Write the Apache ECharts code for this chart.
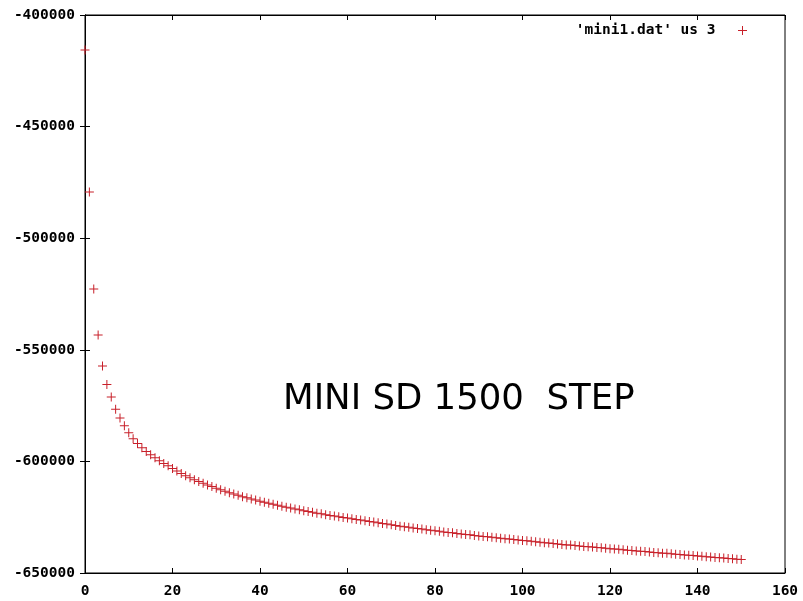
<!DOCTYPE html>
<html lang="en" style="height: 100%">
<head>
  <meta charset="utf-8">
</head>
<body style="height: 100%; margin: 0; background: #fff">
  <div id="container" style="width: 803px; height: 601px"></div>
  <script type="text/javascript" src="https://cdn.jsdelivr.net/npm/echarts@6/dist/echarts.min.js"></script>
  <script type="text/javascript">
    // step index 0..150, column 3 of mini1.dat
    var steps = [];
    for (var i = 0; i <= 150; i++) steps.push(i);

    var energy = [
      -415700, -479300, -522800, -543400, -557300, -565600, -571100, -576600, -580600, -584000,
      -587200, -589900, -592000, -593900, -595600, -597000, -598400, -599700, -600900, -602000,
      -603200, -604300, -605400, -606400, -607300, -608200, -609000, -609800, -610600, -611300,
      -612000, -612700, -613400, -614000, -614600, -615200, -615800, -616300, -616800, -617300,
      -617800, -618300, -618800, -619200, -619700, -620100, -620500, -620900, -621300, -621700,
      -622100, -622500, -622800, -623200, -623500, -623900, -624200, -624500, -624800, -625100,
      -625400, -625700, -626000, -626300, -626600, -626900, -627200, -627500, -627800, -628100,
      -628400, -628700, -629000, -629300, -629500, -629800, -630100, -630300, -630600, -630800,
      -631100, -631300, -631600, -631800, -632000, -632300, -632500, -632700, -632900, -633200,
      -633400, -633600, -633800, -634000, -634200, -634400, -634600, -634800, -635000, -635200,
      -635400, -635600, -635800, -636000, -636200, -636400, -636600, -636800, -637000, -637200,
      -637400, -637500, -637700, -637900, -638100, -638200, -638400, -638600, -638700, -638900,
      -639100, -639300, -639400, -639600, -639800, -639900, -640100, -640300, -640400, -640600,
      -640800, -640900, -641100, -641200, -641400, -641600, -641700, -641900, -642000, -642200,
      -642400, -642500, -642700, -642800, -643000, -643200, -643300, -643500, -643600, -643800,
      -643900
    ];

    var seriesName = "'mini1.dat' us 3";
    var note = 'MINI SD 1500  STEP';

    var plusPath = 'path://M4,0H5V4H9V5H5V9H4V5H0V4H4Z';
    var monoFont = {
      fontFamily: 'DejaVu Sans Mono',
      fontWeight: 'bold',
      fontSize: 14.5,
      color: '#000'
    };

    var dom = document.getElementById('container');
    var myChart = echarts.init(dom, null, { renderer: 'canvas' });

    var option = {
      animation: false,
      backgroundColor: '#fff',
      grid: {
        left: 85,
        right: 18,
        top: 15,
        bottom: 28,
        show: true,
        borderColor: '#000',
        borderWidth: 1
      },
      legend: {
        right: 51,
        top: 18,
        align: 'right',
        itemWidth: 9,
        itemHeight: 9,
        itemGap: 0,
        formatter: function (name) { return name + '  '; },
        textStyle: monoFont,
        data: [seriesName]
      },
      xAxis: [
        {
          type: 'value',
          min: 0,
          max: 160,
          interval: 20,
          axisLine: { show: true, lineStyle: { color: '#000', width: 1 } },
          axisTick: { inside: true, length: 5, lineStyle: { color: '#000' } },
          axisLabel: Object.assign({ margin: 11 }, monoFont),
          splitLine: { show: false }
        },
        {
          type: 'value',
          position: 'top',
          min: 0,
          max: 160,
          interval: 20,
          axisLine: { show: true, lineStyle: { color: '#000', width: 1 } },
          axisTick: { inside: true, length: 5, lineStyle: { color: '#000' } },
          axisLabel: { show: false },
          splitLine: { show: false }
        }
      ],
      yAxis: [
        {
          type: 'value',
          min: -650000,
          max: -400000,
          interval: 50000,
          axisLine: { show: true, lineStyle: { color: '#000', width: 1 } },
          axisTick: { inside: true, length: 5, lineStyle: { color: '#000' } },
          axisLabel: Object.assign({
            margin: 10,
            formatter: function (v) { return String(v); }
          }, monoFont),
          splitLine: { show: false }
        },
        {
          type: 'value',
          position: 'right',
          min: -650000,
          max: -400000,
          interval: 50000,
          axisLine: { show: true, lineStyle: { color: '#000', width: 1 } },
          axisTick: { inside: true, length: 5, lineStyle: { color: '#000' } },
          axisLabel: { show: false },
          splitLine: { show: false }
        }
      ],
      graphic: [
        {
          type: 'text',
          left: 283,
          top: 382,
          style: {
            text: note,
            font: '35.5px "DejaVu Sans"',
            fill: '#000'
          }
        }
      ],
      series: [
        {
          name: seriesName,
          type: 'scatter',
          symbol: plusPath,
          symbolSize: 9,
          itemStyle: { color: '#c8202a', opacity: 1 },
          data: steps.map(function (s, i) { return [s, energy[i]]; })
        }
      ]
    };

    myChart.setOption(option);
    window.addEventListener('resize', myChart.resize);
  </script>
</body>
</html>
